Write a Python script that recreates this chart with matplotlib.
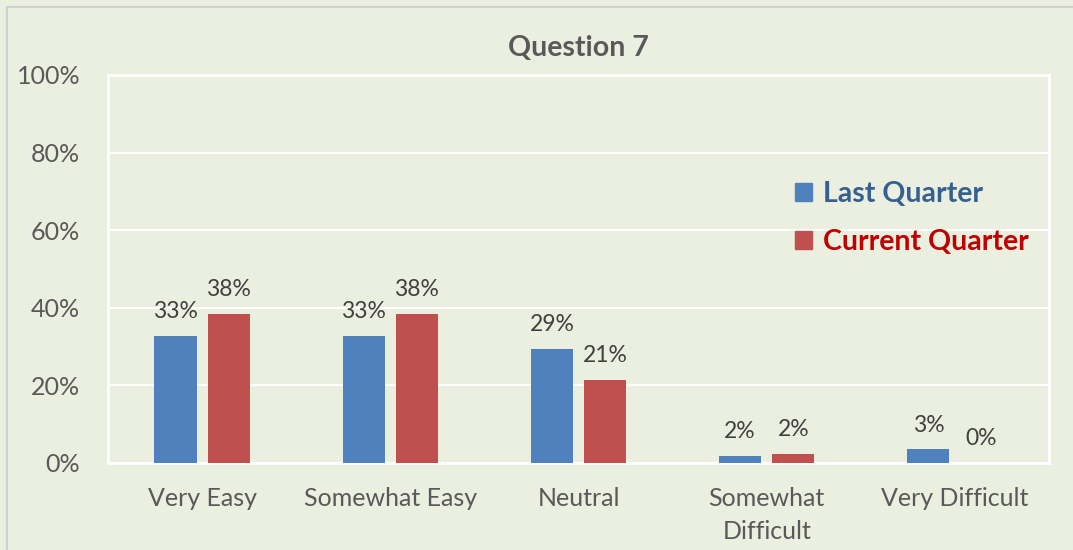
import matplotlib
matplotlib.use("Agg")
import matplotlib.pyplot as plt
import numpy as np
from matplotlib.patches import Rectangle, Patch

categories = ["Very Easy", "Somewhat Easy", "Neutral", "Somewhat\nDifficult", "Very Difficult"]
last_quarter = [0.327, 0.327, 0.294, 0.018, 0.035]
current_quarter = [0.384, 0.384, 0.213, 0.023, 0.0]
last_labels = ["33%", "33%", "29%", "2%", "3%"]
current_labels = ["38%", "38%", "21%", "2%", "0%"]
yticks = [0, 0.2, 0.4, 0.6, 0.8, 1.0]
ytick_labels = ["0%", "20%", "40%", "60%", "80%", "100%"]

plt.rcParams['font.family'] = ['Lato', 'DejaVu Sans']
bg = "#EBEFDF"
blue = "#4F81BD"
red = "#C0504D"

fig = plt.figure(figsize=(10.73, 5.5), dpi=100)
fig.patch.set_facecolor(bg)
fig.patches.append(Rectangle((7/1073, -0.01), 1.1, 1 - 7/550 + 0.01, transform=fig.transFigure,
                             fill=False, edgecolor="#D0D0D0", linewidth=1.5))
ax = fig.add_axes([108/1073, 1 - 463/550, (1049 - 108)/1073, (463 - 75)/550])
ax.set_facecolor(bg)

x = np.arange(len(categories))
w = 0.224
gap = 0.058
off = (w + gap) / 2
b1 = ax.bar(x - off, last_quarter, w, color=blue, label="Last Quarter", zorder=3)
b2 = ax.bar(x + off, current_quarter, w, color=red, label="Current Quarter", zorder=3)

for rect, lab in zip(b1, last_labels):
    ax.annotate(lab, (rect.get_x() + rect.get_width()/2, rect.get_height()),
                xytext=(0, 10), textcoords="offset points", ha="center", va="bottom",
                fontsize=16.5, color="#404040")
for rect, lab in zip(b2, current_labels):
    ax.annotate(lab, (rect.get_x() + rect.get_width()/2, rect.get_height()),
                xytext=(0, 10), textcoords="offset points", ha="center", va="bottom",
                fontsize=16.5, color="#404040")

ax.set_xlim(-0.5, len(categories) - 0.5)
ax.set_ylim(0, 1.0)
ax.set_yticks(yticks)
ax.set_yticklabels(ytick_labels, fontsize=18, color="#595959")
ax.set_xticks(x)
ax.set_xticklabels(categories, fontsize=18, color="#595959", linespacing=1.55)
ax.tick_params(axis="both", length=0)
ax.tick_params(axis="y", pad=20)
ax.tick_params(axis="x", pad=17)
ax.grid(axis="y", color="white", linewidth=1.5, zorder=0)
for s in ax.spines.values():
    s.set_color("white")
    s.set_linewidth(2)

ax.set_title("Question 7", fontsize=20.5, fontweight="bold", color="#595959", pad=14)

leg = ax.legend(handles=[Patch(color=blue), Patch(color=red)],
                labels=["Last Quarter", "Current Quarter"],
                loc="upper left", bbox_to_anchor=(769/1073, 1 - 155/550),
                bbox_transform=fig.transFigure, frameon=False,
                handlelength=0.6, handleheight=0.6, handletextpad=0.4,
                labelspacing=0.78, prop={"size": 20.5, "weight": "bold"})
for t, c in zip(leg.get_texts(), ["#366092", "#C00000"]):
    t.set_color(c)

fig.savefig("out.png", dpi=100, facecolor=bg)
